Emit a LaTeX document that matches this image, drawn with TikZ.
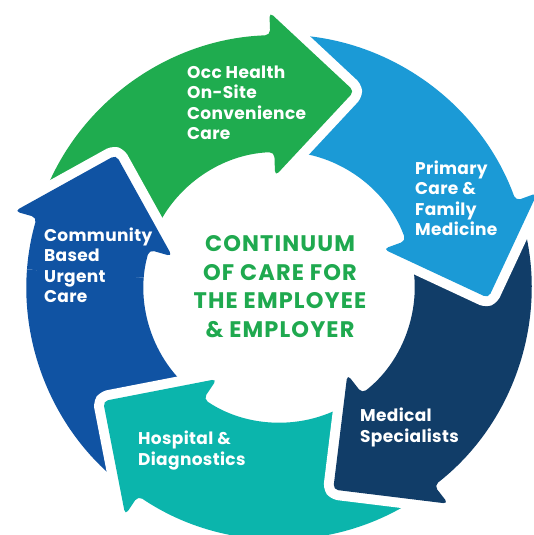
\documentclass[tikz,border=0pt]{standalone}
\usepackage{fontspec}
\setmainfont{Poppins}
\usetikzlibrary{calc}

\definecolor{occgreen}{HTML}{1FAC4F}
\definecolor{primblue}{HTML}{1B9AD6}
\definecolor{mednavy}{HTML}{113D68}
\definecolor{hospteal}{HTML}{0BB5AC}
\definecolor{commblue}{HTML}{1053A3}
\definecolor{titlegreen}{HTML}{1FA94F}

\tikzset{
  segfill/.style={fill=#1, rounded corners=5pt,
    preaction={draw=white, line width=20pt, line join=round}},
  seglabel/.style={text=white,
    font=\bfseries\fontsize{17}{20.6}\selectfont\addfontfeatures{LetterSpace=2},
    align=left, anchor=base west, inner sep=0pt},
}

% one ring segment: head base at angle #1, tail 72 degrees further back
\newcommand{\ringseg}[2]{%
  \fill[segfill=#2] (#1+72:252pt) arc[start angle=#1+72, end angle=#1, radius=252pt]
    -- (#1:275pt) -- ($(#1:193pt)+(#1-90:82pt)$) -- (#1:111pt) -- (#1:135pt)
    arc[start angle=#1, end angle=#1+72, radius=135pt] -- cycle;
}

\begin{document}
\begin{tikzpicture}
  \useasboundingbox (-279pt,-248pt) rectangle (255pt,287pt);

  % segments, drawn back to front so every head lies on the next tail
  \foreach \h/\c in {164/commblue, -124/hospteal, -52/mednavy, 20/primblue, 92/occgreen}{
    \ringseg{\h}{\c}
  }

  % community head once more, over the tail of the green segment
  \begin{scope}
    \clip (0,0) -- (176:400pt) arc[start angle=176, end angle=100, radius=400pt] -- cycle;
    \ringseg{164}{commblue}
  \end{scope}

  % labels (anchored on the baseline of their last line)
  \node[seglabel] (occ) at (-92pt,147pt) {Occ Health\\On-Site\\Convenience\\Care};
  \node[seglabel] (prim) at (136pt,51pt) {Primary\\Care \&\\Family\\Medicine};
  \node[seglabel] (med) at (81pt,-155pt) {Medical\\Specialists};
  \node[seglabel] (hosp) at (-141pt,-178pt) {Hospital \&\\Diagnostics};
  \node[seglabel] (comm) at (-235pt,-16pt) {Community\\Based\\Urgent\\Care};

  \node[text=titlegreen, align=center, anchor=base, inner sep=0pt,
    font=\bfseries\fontsize{22.5}{28.5}\selectfont\addfontfeatures{LetterSpace=5}]
    (title) at (1pt,-50pt) {CONTINUUM\\OF CARE FOR\\THE EMPLOYEE\\\& EMPLOYER};
\end{tikzpicture}
\end{document}
